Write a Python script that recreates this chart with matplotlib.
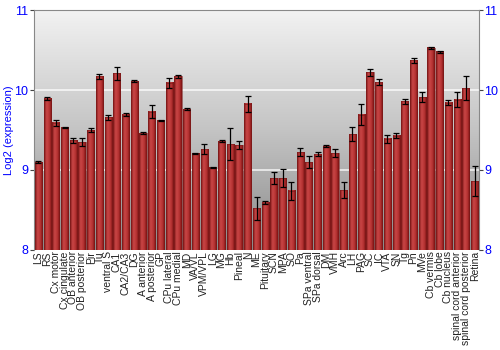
import numpy as np
import matplotlib
matplotlib.use('Agg')
from matplotlib import pyplot as plt
from matplotlib.colors import LinearSegmentedColormap

plt.rcParams['font.family'] = ['Liberation Sans', 'DejaVu Sans']

regions = ['LS', 'RS', 'Cx motor', 'Cx cingulate', 'OB anterior', 'OB posterior', 'Pir', 'Tu',
           'ventral S', 'CA1', 'CA2/CA3', 'DG', 'A anterior', 'A posterior', 'GP', 'CPu lateral',
           'CPu medial', 'MD', 'VA/VL', 'VPM/VPL', 'LG', 'MG', 'Hb', 'Pineal', 'N', 'ME',
           'Pituitary', 'SCN', 'MPA', 'SO', 'Pa', 'SPa ventral', 'SPa dorsal', 'DM', 'VMH', 'Arc',
           'LH', 'PAG', 'SC', 'IC', 'VTA', 'SN', 'Tg', 'Pn', 'MVe', 'Cb vermis', 'Cb lobe',
           'Cb nucleus', 'spinal cord anterior', 'spinal cord posterior', 'Retina']
values = [9.10, 9.89, 9.59, 9.53, 9.37, 9.35, 9.50, 10.17,
          9.66, 10.21, 9.69, 10.11, 9.46, 9.73, 9.62, 10.09,
          10.17, 9.76, 9.21, 9.26, 9.03, 9.36, 9.32, 9.31, 9.83, 8.52,
          8.59, 8.90, 8.90, 8.74, 9.22, 9.10, 9.20, 9.30, 9.21, 8.75,
          9.45, 9.69, 10.22, 10.10, 9.39, 9.43, 9.86, 10.37, 9.91, 10.53, 10.48,
          9.84, 9.88, 10.02, 8.86]
errors = [0.01, 0.02, 0.04, 0.01, 0.03, 0.05, 0.02, 0.03,
          0.03, 0.08, 0.02, 0.01, 0.01, 0.08, 0.005, 0.06,
          0.02, 0.01, 0.005, 0.06, 0.005, 0.015, 0.2, 0.05, 0.1, 0.14,
          0.02, 0.08, 0.11, 0.11, 0.05, 0.07, 0.02, 0.01, 0.05, 0.1,
          0.09, 0.13, 0.04, 0.04, 0.05, 0.03, 0.03, 0.03, 0.06, 0.01, 0.01,
          0.03, 0.09, 0.15, 0.19]
yticks = [8, 9, 10, 11]

fig = plt.figure(figsize=(5, 3.5), dpi=100)
ax = fig.add_axes([0.068, 0.286, 0.89, 0.685])

x = np.arange(len(regions))
ax.set_xlim(-0.5, len(regions) - 0.5)
ax.set_ylim(8, 11)

# gray gradient background
bg = np.linspace(0, 1, 256).reshape(-1, 1)
bg_cmap = LinearSegmentedColormap.from_list('bg', ['#8a8a8a', '#c4c4c4', '#f2f2f2'])
ax.imshow(bg, cmap=bg_cmap, aspect='auto', extent=(-0.5, len(regions) - 0.5, 8, 11),
          origin='lower', zorder=0)

for t in [9, 10]:
    ax.axhline(t, color='white', lw=1.2, alpha=0.8, zorder=1)

bars = ax.bar(x, np.array(values) - 8, bottom=8, width=0.82, color='none',
              edgecolor='#7a1a1a', linewidth=0.4, zorder=3)

# red shaded bars
bar_cmap = LinearSegmentedColormap.from_list('bar', ['#7e1616', '#c84646', '#b83434', '#7a1212'])
grad = np.linspace(0, 1, 64).reshape(1, -1)
for b in bars:
    ax.imshow(grad, cmap=bar_cmap, aspect='auto',
              extent=(b.get_x(), b.get_x() + b.get_width(), 8, 8 + b.get_height()),
              zorder=2)

ax.errorbar(x, values, yerr=errors, fmt='none', ecolor='black', elinewidth=0.9,
            capsize=2, capthick=0.9, zorder=4)

ax.set_xticks(x)
ax.set_xticklabels(regions, rotation=90, fontsize=7.5, color='#222222')
ax.tick_params(axis='x', length=0, pad=1)

ax.set_yticks(yticks)
ax.set_yticklabels([str(t) for t in yticks])
ax.tick_params(axis='y', colors='#444444', labelcolor='blue', labelsize=9,
               left=True, right=True, labelleft=True, labelright=True, length=3,
               direction='out', pad=1)
ax.set_ylabel('Log2 (expression)', color='blue', fontsize=8)
ax.yaxis.set_label_coords(-0.045, 0.5)

for s in ['left', 'right', 'top']:
    ax.spines[s].set_color('#888888')
ax.spines['bottom'].set_visible(False)

plt.savefig('out.png', dpi=100)
